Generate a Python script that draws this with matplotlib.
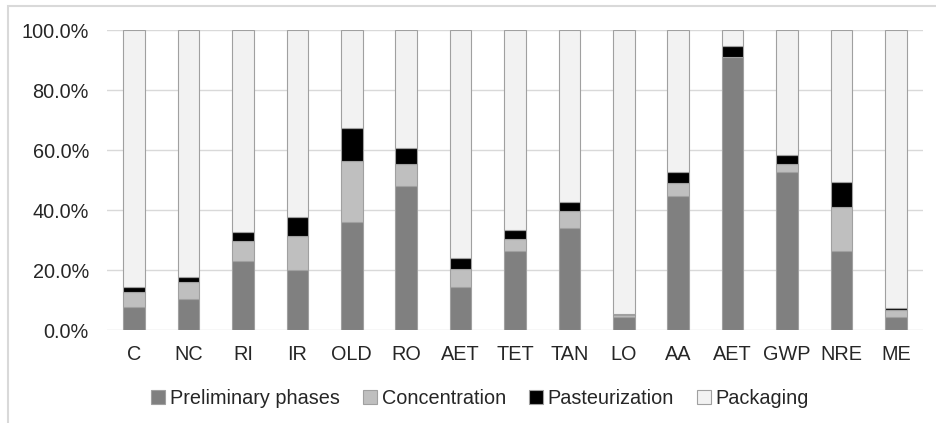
import matplotlib.pyplot as plt
import numpy as np
from matplotlib.patches import Patch, Rectangle
from matplotlib.ticker import PercentFormatter

plt.rcParams['font.family'] = ['Liberation Sans', 'DejaVu Sans']

categories = ['C', 'NC', 'RI', 'IR', 'OLD', 'RO', 'AET', 'TET', 'TAN', 'LO',
              'AA', 'AET', 'GWP', 'NRE', 'ME']
series_names = ['Preliminary phases', 'Concentration', 'Pasteurization', 'Packaging']

preliminary = [7.8, 10.2, 23.1, 19.9, 36.1, 48.0, 14.2, 26.4, 33.9, 4.2,
               44.7, 90.9, 52.7, 26.3, 4.4]
concentration = [5.0, 5.7, 6.6, 11.5, 20.1, 7.2, 6.0, 3.9, 5.9, 0.7,
                 4.4, 0.2, 2.5, 14.6, 2.3]
pasteurization = [1.4, 1.7, 3.1, 6.3, 11.0, 5.6, 3.8, 3.0, 3.0, 0.5,
                  3.7, 3.7, 3.0, 8.3, 0.7]
packaging = [100 - a - b - c for a, b, c in zip(preliminary, concentration, pasteurization)]

colors = ['#808080', '#bfbfbf', '#000000', '#f2f2f2']

fig = plt.figure(figsize=(9.36, 4.23), dpi=100)
W, H = 936, 423
ax = fig.add_axes([107 / W, (H - 330) / H, 816 / W, 300 / H])

# outer frame of the original chart (only left and top edges visible)
fig.patches.append(Rectangle((8 / W, -0.1), 1.2, (H - 6) / H + 0.1,
                             transform=fig.transFigure, fill=False,
                             edgecolor='#d9d9d9', linewidth=1.5))

x = np.arange(len(categories))
bottom = np.zeros(len(categories))
for name, vals, col in zip(series_names,
                           [preliminary, concentration, pasteurization, packaging],
                           colors):
    ax.bar(x, vals, width=0.4, bottom=bottom, color=col,
           edgecolor='#a0a0a0', linewidth=0.8, zorder=3)
    bottom += np.array(vals)

ax.set_xlim(-0.5, len(categories) - 0.5)
ax.set_ylim(0, 100)
ax.set_yticks(np.arange(0, 101, 20))
ax.yaxis.set_major_formatter(PercentFormatter(decimals=1))
ax.set_xticks(x)
ax.set_xticklabels(categories)
ax.tick_params(length=0, labelsize=14.3, colors='#262626')
ax.tick_params(axis='x', pad=11)
ax.tick_params(axis='y', pad=13)
ax.grid(axis='y', color='#d9d9d9', linewidth=1, zorder=0)
for s in ax.spines.values():
    s.set_visible(False)

handles = [Patch(facecolor=c, edgecolor='#a0a0a0', linewidth=0.8) for c in colors]
fig.legend(handles, series_names, loc='center', bbox_to_anchor=(480 / W, (H - 398) / H),
           ncol=4, frameon=False, fontsize=14.3, handlelength=0.7, handleheight=0.7,
           handletextpad=0.25, columnspacing=1.15, labelcolor='#262626')

fig.savefig('out.png', dpi=100)
